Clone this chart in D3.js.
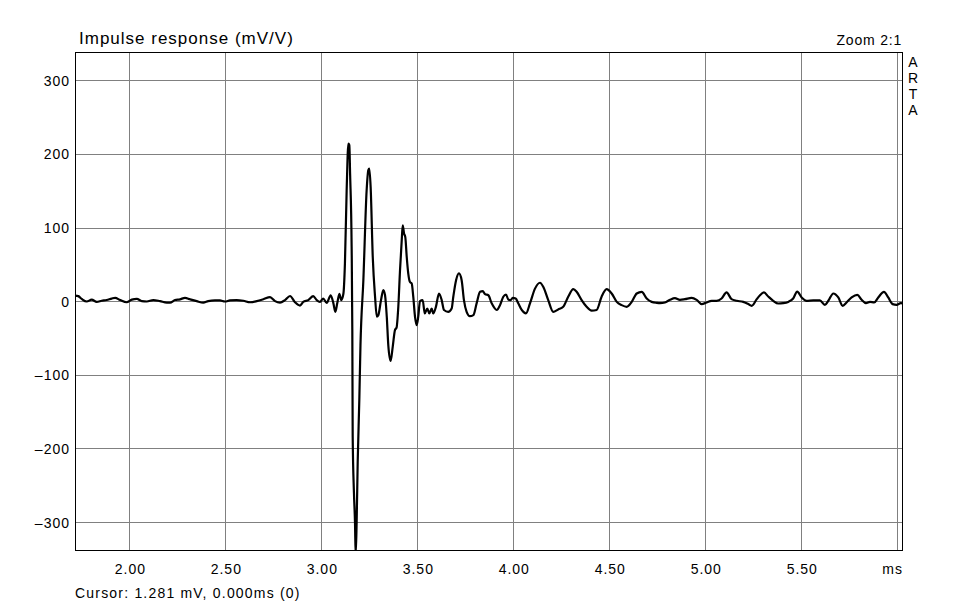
<!DOCTYPE html>
<html><head><meta charset="utf-8">
<script src="https://cdn.jsdelivr.net/npm/d3@7"></script>
<style>
html,body{margin:0;padding:0;background:#fff;}
text{font-family:Arial,"Liberation Sans",sans-serif;fill:#000;}
</style></head>
<body>
<svg id="c" width="957" height="607"></svg>
<script>
// ---- data ----
const titleText = "Impulse response (mV/V)";
const zoomText = "Zoom 2:1";
const brandText = ["A","R","T","A"];
const cursorText = "Cursor: 1.281 mV, 0.000ms (0)";
const xUnit = "ms";
const xDomain = [1.717, 6.03];
const yDomain = [-338, 338.4];
const xTicks = [2.0, 2.5, 3.0, 3.5, 4.0, 4.5, 5.0, 5.5];
const xTickLabels = ["2.00","2.50","3.00","3.50","4.00","4.50","5.00","5.50"];
const xGrid = [2.0, 2.5, 3.0, 3.5, 4.0, 4.5, 5.0, 5.5, 6.0];
const yTicks = [300, 200, 100, 0, -100, -200, -300];
const yTickLabels = ["300","200","100","0","\u2013100","\u2013200","\u2013300"];
const timeMs = [
1.717,1.734,1.752,1.778,1.804,1.830,1.856,1.882,1.908,1.926,1.952,1.986,2.013,2.039,2.065,2.091,
2.125,2.160,2.195,2.212,2.238,2.264,2.290,2.316,2.351,2.385,2.411,2.446,2.472,2.498,2.524,2.559,
2.594,2.629,2.664,2.698,2.733,2.759,2.785,2.811,2.837,2.863,2.889,2.906,2.932,2.958,2.976,2.993,
3.010,3.028,3.049,3.063,3.073,3.083,3.094,3.104,3.115,3.123,3.132,3.141,3.146,3.150,3.158,3.1615,
3.1635,3.170,3.1755,3.179,3.184,3.1896,3.198,3.204,3.219,3.236,3.245,3.250,3.257,3.268,3.280,3.289,
3.297,3.311,3.323,3.332,3.341,3.349,3.361,3.372,3.384,3.392,3.401,3.410,3.419,3.424,3.431,3.4375,
3.445,3.453,3.462,3.471,3.479,3.488,3.497,3.505,3.514,3.528,3.539,3.552,3.5625,3.575,3.583,3.597,
3.613,3.627,3.639,3.661,3.679,3.6875,3.702,3.717,3.731,3.743,3.757,3.774,3.792,3.809,3.827,3.841,
3.853,3.870,3.8875,3.914,3.931,3.948,3.962,3.974,3.986,3.997,4.0125,4.026,4.044,4.066,4.087,4.113,
4.139,4.156,4.182,4.208,4.234,4.260,4.286,4.3125,4.330,4.356,4.382,4.408,4.434,4.460,4.486,4.5125,
4.539,4.5645,4.591,4.617,4.643,4.669,4.695,4.721,4.747,4.764,4.790,4.816,4.842,4.868,4.894,4.929,
4.955,4.981,5.007,5.033,5.059,5.085,5.111,5.137,5.164,5.198,5.224,5.242,5.268,5.285,5.306,5.328,
5.354,5.380,5.406,5.432,5.458,5.479,5.502,5.528,5.5625,5.597,5.623,5.641,5.667,5.693,5.716,5.736,
5.7625,5.792,5.8145,5.837,5.858,5.880,5.901,5.931,5.953,5.976,5.997,6.018,6.030
];
const responseMv = [
7.6,6.8,3,-0.5,2,-1,0.5,1.5,3.5,4.5,1.5,-1.5,2,3,0,-0.5,
1.5,0,-2,-2,1.5,2.5,4.5,2.5,0,-2,0,1,1,-0.5,1,1.5,
0.5,-1.5,0,2.5,5.5,0,-2,1.5,7,-1.5,-6,-1,1.4,6.8,1.4,-1,
3.6,-2.3,8,-3,-14.5,-3,10,1.4,10,51,150,214,212,173,74,-39,
-184,-260,-301,-345,-301,-218,-134,-60,28,150,178,180,155,60,6,-21,
-19,1.4,15,8,-21,-60,-81,-62,-39,-36,-8,42,83,103,92,87,
60,37.5,26,24,6,-21,-32.6,-21,0,1.4,-16.7,-10,-16.7,-10,-16.7,-7.7,
10.4,1.4,-12,-14.5,-10,6,28.5,37.6,28.5,1.4,-14.5,-20.4,-19,-3,12.7,13.6,
9.5,8,-3,-12,-5.4,6,9,2.3,1.4,4.5,3.6,-3,-12,-16.7,-3,17,
25,19.5,1.4,-14.5,-11.3,-7.7,6,16.3,12.7,1.4,-7.7,-13,-12,6,16.3,10.4,
-1,-5.4,-7.7,-1,10.4,12.7,3.6,-1,-2.3,-2.7,-1.8,1.8,4,1.8,2.7,4.5,
1.8,-4,-1.8,0.5,0.5,3.6,11.8,2.7,0.5,-1,-4,-6.3,2.7,8.1,11.8,6.3,
0.5,-3.2,-2.7,-1,3.6,13,5,0.5,1,1,-5,0.5,10.4,5,-6.3,-1.8,
5,8.6,1.8,-2.7,-1,-1.8,5,12.7,5,-4,-5,-2.7,-3
];

// ---- layout ----
const L = 75, R = 903, T = 52, B = 550;
const FONT = "Arial, 'Liberation Sans', sans-serif";
const svg = d3.select("#c");
const x = d3.scaleLinear().domain(xDomain).range([L, R]);
const y = d3.scaleLinear().domain(yDomain).range([B, T]);
const px = v => Math.round(v) + 0.5;

svg.append("rect").attr("width",957).attr("height",607).attr("fill","#fff");

// grid
const grid = svg.append("g").attr("stroke","#808080").attr("stroke-width",1).attr("shape-rendering","crispEdges");
grid.selectAll("line.v").data(xGrid).join("line").attr("class","v")
  .attr("x1",d=>px(x(d))).attr("x2",d=>px(x(d))).attr("y1",T).attr("y2",B);
grid.selectAll("line.h").data(yTicks).join("line").attr("class","h")
  .attr("y1",d=>px(y(d))).attr("y2",d=>px(y(d))).attr("x1",L).attr("x2",R);

// axis labels via d3 axes (no domain / tick lines)
const xAxis = d3.axisBottom(x).tickValues(xTicks).tickSize(0).tickPadding(0)
  .tickFormat((d,i)=>xTickLabels[i]);
const gx = svg.append("g").attr("transform",`translate(0.5,${B})`).call(xAxis);
gx.select(".domain").remove();
gx.selectAll("text").attr("font-size",14).attr("font-family",FONT).attr("letter-spacing","1px")
  .attr("dy",null).attr("y",24).attr("fill","#000");

const yAxis = d3.axisLeft(y).tickValues(yTicks).tickSize(0).tickPadding(0)
  .tickFormat((d,i)=>yTickLabels[i]);
const gy = svg.append("g").attr("transform",`translate(${L-5},0)`).call(yAxis);
gy.select(".domain").remove();
gy.selectAll("text").attr("font-size",14).attr("font-family",FONT).attr("letter-spacing","1px")
  .attr("fill","#000").attr("dy","0.36em");

// signal
svg.append("clipPath").attr("id","clip").append("rect")
  .attr("x",L).attr("y",T).attr("width",R-L).attr("height",B-T);
const pts = timeMs.map((t,i)=>[t, responseMv[i]]);
const line = d3.line().x(d=>x(d[0])).y(d=>y(d[1])).curve(d3.curveMonotoneX);
svg.append("path").attr("d", line(pts)).attr("fill","none").attr("stroke","#000")
  .attr("stroke-width",2.2).attr("stroke-linejoin","round").attr("clip-path","url(#clip)");

// border
svg.append("rect").attr("x",L+0.5).attr("y",T+0.5).attr("width",R-L-1).attr("height",B-T)
  .attr("fill","none").attr("stroke","#000").attr("stroke-width",1).attr("shape-rendering","crispEdges");

// texts
svg.append("text").attr("x",79).attr("y",44).attr("font-size",17).attr("letter-spacing","1px").text(titleText);
svg.append("text").attr("x",902).attr("y",45).attr("font-size",14).attr("letter-spacing","0.8px").attr("text-anchor","end").text(zoomText);
svg.append("g").selectAll("text").data(brandText).join("text")
  .attr("x",913).attr("y",(d,i)=>67+i*16).attr("font-size",14).attr("text-anchor","middle").text(d=>d);
svg.append("text").attr("x",R).attr("y",B+24).attr("font-size",14).attr("letter-spacing","1px").attr("text-anchor","end").text(xUnit);
svg.append("text").attr("x",75).attr("y",598).attr("font-size",14).attr("letter-spacing","1.2px").text(cursorText);
</script>
</body></html>
